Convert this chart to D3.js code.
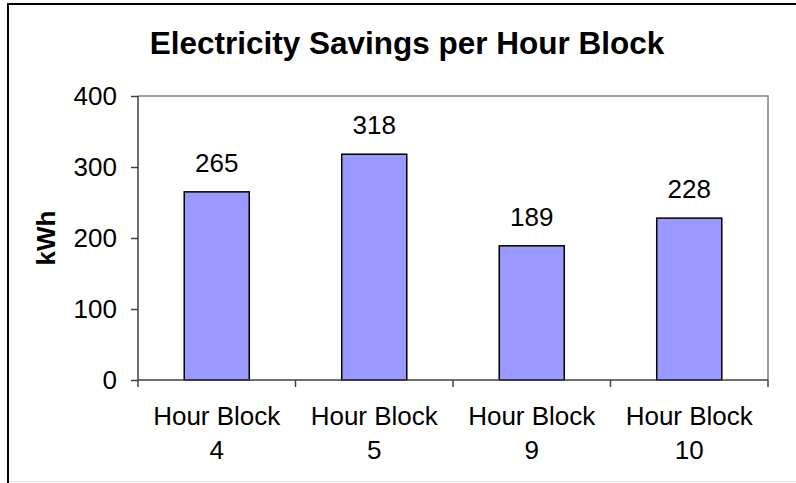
<!DOCTYPE html>
<html>
<head>
<meta charset="utf-8">
<script src="https://cdn.jsdelivr.net/npm/d3@7"></script>
<style>
  body { margin: 0; background: #fff; }
  svg { display: block; font-family: Arial, "Liberation Sans", sans-serif; }
</style>
</head>
<body>
<div id="chart"></div>
<script>
// chart values
const categories = ["Hour Block 4", "Hour Block 5", "Hour Block 9", "Hour Block 10"];
const savings = [265, 318, 189, 228];
const yTicks = [0, 100, 200, 300, 400];

const W = 796, H = 483;
const margin = {top: 96, right: 28, bottom: 103, left: 138};
const width = W - margin.left - margin.right,
      height = H - margin.top - margin.bottom;

const svg = d3.select("#chart")
  .append("svg")
    .attr("width", W)
    .attr("height", H);

// outer frame (only left + top visible, rest runs off the picture)
svg.append("rect")
  .attr("x", 8).attr("y", 4)
  .attr("width", W + 10).attr("height", H + 10)
  .attr("fill", "#fff")
  .attr("stroke", "#000")
  .attr("stroke-width", 2);

svg.append("line")
  .attr("x1", 9).attr("x2", W)
  .attr("y1", H - 1.5).attr("y2", H - 1.5)
  .attr("stroke", "#e4e4e4");

svg.append("text")
  .attr("x", 407)
  .attr("y", 54)
  .attr("text-anchor", "middle")
  .style("font-size", "31.5px")
  .style("font-weight", "bold")
  .text("Electricity Savings per Hour Block");

const g = svg.append("g")
  .attr("transform", "translate(" + margin.left + "," + margin.top + ")");

const x = d3.scaleBand()
  .domain(categories)
  .range([0, width])
  .padding(0);

const y = d3.scaleLinear()
  .domain([0, 400])
  .range([height, 0]);

// plot area border (top + right in gray)
g.append("path")
  .attr("d", "M0,0H" + width + "V" + height)
  .attr("fill", "none")
  .attr("stroke", "#808080")
  .attr("stroke-width", 1.5);

const barW = x.bandwidth() * 0.413;

g.selectAll(".bar")
  .data(savings)
  .enter()
  .append("rect")
    .attr("class", "bar")
    .attr("x", (d, i) => x(categories[i]) + x.bandwidth() / 2 - barW / 2)
    .attr("y", d => y(d))
    .attr("width", barW)
    .attr("height", d => height - y(d))
    .attr("fill", "#9999ff")
    .attr("stroke", "#000")
    .attr("stroke-width", 1.5);

g.selectAll(".val")
  .data(savings)
  .enter()
  .append("text")
    .attr("class", "val")
    .attr("x", (d, i) => x(categories[i]) + x.bandwidth() / 2)
    .attr("y", d => y(d) - 20)
    .attr("text-anchor", "middle")
    .style("font-size", "26px")
    .text(d => d);

// y axis
const yAxis = g.append("g")
  .call(d3.axisLeft(y).tickValues(yTicks).tickSize(7).tickPadding(14));
yAxis.selectAll("path, line").attr("stroke", "#404040").attr("stroke-width", 1.5);
yAxis.select(".domain").attr("d", "M0," + height + "V0");
yAxis.selectAll("text")
  .style("font-size", "26px")
  .style("font-family", "Arial, 'Liberation Sans', sans-serif")
  .attr("fill", "#000");

// x axis with ticks at category boundaries
const xAxisG = g.append("g")
  .attr("transform", "translate(0," + height + ")");
xAxisG.append("line")
  .attr("x1", 0).attr("x2", width)
  .attr("stroke", "#404040").attr("stroke-width", 1.5);
const bounds = categories.map(c => x(c)).concat([width]);
xAxisG.selectAll(".btick")
  .data(bounds)
  .enter()
  .append("line")
    .attr("x1", d => d).attr("x2", d => d)
    .attr("y1", 0).attr("y2", 7)
    .attr("stroke", "#404040").attr("stroke-width", 1.5);

const xl = xAxisG.selectAll(".xl")
  .data(categories)
  .enter()
  .append("text")
    .attr("class", "xl")
    .attr("x", d => x(d) + x.bandwidth() / 2)
    .attr("y", 45)
    .attr("text-anchor", "middle")
    .style("font-size", "26px");
xl.append("tspan")
  .attr("x", d => x(d) + x.bandwidth() / 2)
  .text(d => d.replace(/ \d+$/, ""));
xl.append("tspan")
  .attr("x", d => x(d) + x.bandwidth() / 2)
  .attr("dy", 34)
  .text(d => d.match(/\d+$/)[0]);

svg.append("text")
  .attr("transform", "translate(55,238) rotate(-90)")
  .attr("text-anchor", "middle")
  .style("font-size", "26px")
  .style("font-weight", "bold")
  .text("kWh");
</script>
</body>
</html>
